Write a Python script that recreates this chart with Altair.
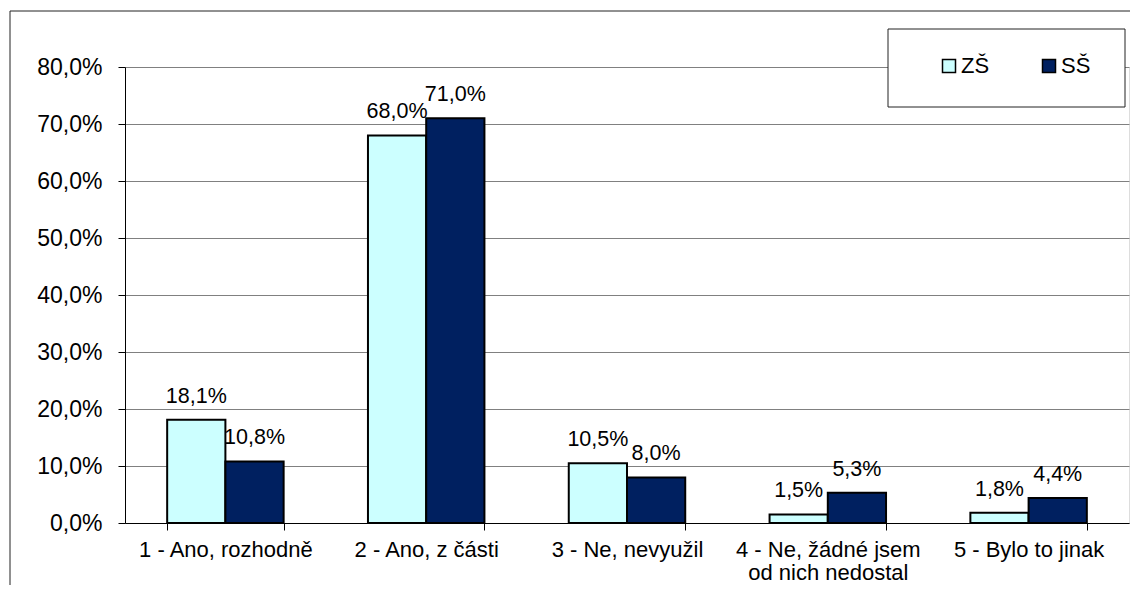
import altair as alt
import pandas as pd

categories = ["1 - Ano, rozhodně", "2 - Ano, z části", "3 - Ne, nevyužil",
              "4 - Ne, žádné jsem|od nich nedostal", "5 - Bylo to jinak"]
series = ["ZŠ", "SŠ"]
zs_values = [0.181, 0.680, 0.105, 0.015, 0.018]
ss_values = [0.108, 0.710, 0.080, 0.053, 0.044]
colors = ["#CCFFFF", "#002060"]
y_ticks = [0.0, 0.1, 0.2, 0.3, 0.4, 0.5, 0.6, 0.7, 0.8]

rows = []
for c, z, s in zip(categories, zs_values, ss_values):
    rows.append({"kat": c, "skupina": series[0], "podil": z})
    rows.append({"kat": c, "skupina": series[1], "podil": s})
df = pd.DataFrame(rows)

FONT = "Liberation Sans"
W, H = 1004, 456

x_enc = alt.X("kat:N", sort=categories,
              scale=alt.Scale(paddingInner=0.42, paddingOuter=0.21),
              axis=alt.Axis(title=None, labelAngle=0, tickBand="extent", tickSize=7,
                            labelPadding=9, labelFontSize=22, labelLineHeight=23,
                            labelLimit=0, labelOverlap=False, domainColor="black",
                            tickColor="black", grid=False, labelColor="black",
                            labelFont=FONT, labelExpr="split(datum.label, '|')"))
y_enc = alt.Y("podil:Q", scale=alt.Scale(domain=[0, 0.8], nice=False),
              axis=alt.Axis(title=None, values=y_ticks, grid=True, gridColor="#808080",
                            gridWidth=1, domainColor="black", tickColor="black",
                            tickSize=7, labelFontSize=23, labelPadding=16,
                            labelColor="black", labelFont=FONT,
                            labelExpr="replace(format(datum.value, '.1%'), '.', ',')"))
xoff = alt.XOffset("skupina:N", sort=series, scale=alt.Scale(paddingInner=0, paddingOuter=0))

base = alt.Chart(df)

bars = base.mark_bar(stroke="black", strokeWidth=2).encode(
    x=x_enc, y=y_enc, xOffset=xoff,
    color=alt.Color("skupina:N", sort=series,
                    scale=alt.Scale(domain=series, range=colors),
                    legend=alt.Legend(title=None, orient="none", legendX=813, legendY=-12,
                                      direction="horizontal", symbolType="square",
                                      symbolSize=169, symbolStrokeColor="black",
                                      symbolStrokeWidth=1.5, labelFontSize=22,
                                      labelFont=FONT, labelColor="black",
                                      columnPadding=48, labelOffset=1, padding=0)),
)

labels = base.transform_calculate(
    lbl="replace(format(datum.podil, '.1%'), '.', ',')"
).mark_text(baseline="alphabetic", dy=-17, fontSize=21.5, font=FONT, color="black").encode(
    x=alt.X("kat:N", sort=categories), y="podil:Q", xOffset=alt.XOffset("skupina:N", sort=series),
    text="lbl:N",
)

one = pd.DataFrame({"a": [0]})
legend_box = alt.Chart(one).mark_rect(fill="white", stroke="#222222", strokeWidth=1).encode(
    x=alt.value(763), x2=alt.value(1000), y=alt.value(-38), y2=alt.value(40)
)
frame_left = alt.Chart(one).mark_rule(color="#222222", strokeWidth=1).encode(
    x=alt.value(-115), y=alt.value(-56), y2=alt.value(H + 62)
)
frame_top = alt.Chart(one).mark_rule(color="#222222", strokeWidth=1).encode(
    x=alt.value(-115), x2=alt.value(W + 1), y=alt.value(-56)
)

chart = alt.layer(frame_left, frame_top, bars, labels, legend_box).properties(
    width=W, height=H,
    padding={"left": 117, "top": 59, "right": 1, "bottom": 63},
    autosize=alt.AutoSizeParams(type="none"),
).configure_view(stroke="#808080", strokeWidth=1).configure(font=FONT)

chart.save("out.html", embed_options={"renderer": "svg", "actions": False})
